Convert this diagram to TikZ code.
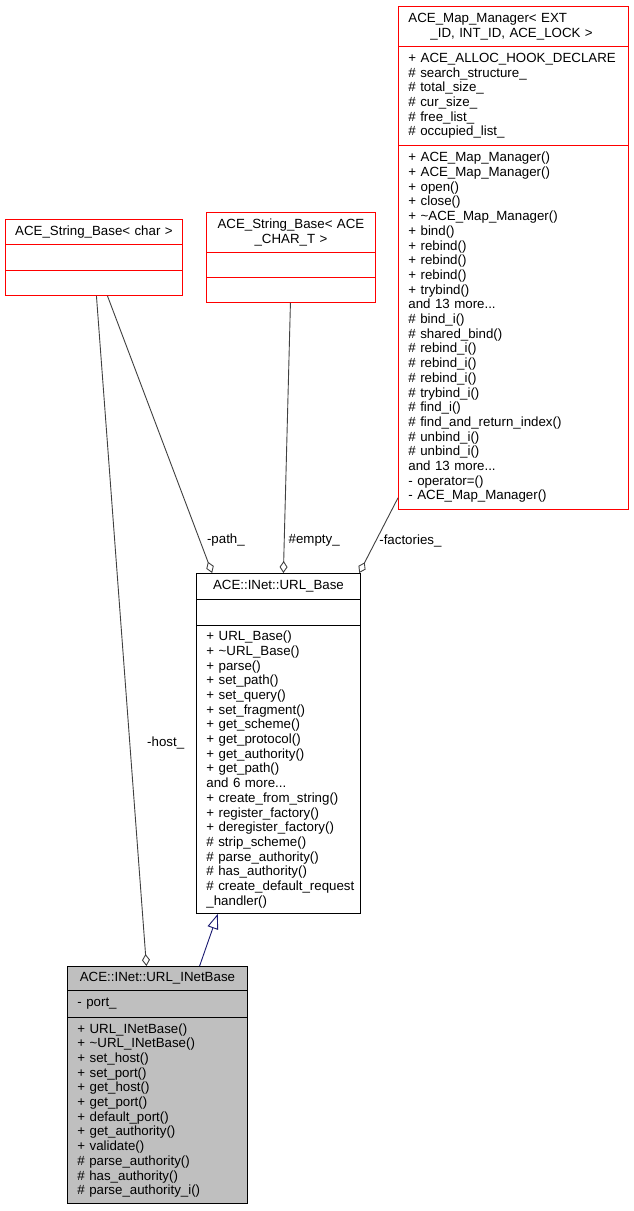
\documentclass[tikz,border=0pt]{standalone}
\usepackage{fontspec}
\setmainfont{Liberation Sans}
\usetikzlibrary{arrows.meta,calc}

\definecolor{edgegray}{HTML}{404040}
\definecolor{inhblue}{HTML}{191970}
\definecolor{boxgray}{HTML}{BFBFBF}

\tikzset{
  part/.style={draw, rectangle, anchor=north west, inner xsep=10pt, inner ysep=0pt,
    font=\fontsize{13.3}{14.7}\selectfont, line width=0.9pt,
    execute at begin node={\hyphenpenalty=10000 \exhyphenpenalty=10000 }},
  title/.style={part, align=center, inner xsep=3pt},
  members/.style={part, align=left},
  agg/.style={draw=edgegray, line width=0.9pt, -{Diamond[open,length=12pt,width=8pt]}},
  inh/.style={draw=inhblue, line width=0.9pt, -{Triangle[open,length=15pt,width=11pt]}},
  lbl/.style={font=\fontsize{13.3}{14.7}\selectfont, inner sep=1pt, right}
}

\begin{document}
\begin{tikzpicture}[x=1pt,y=-1pt]
\useasboundingbox (0,0) rectangle (633,1211);

% ACE_String_Base< char >
\node[title, draw=red, minimum width=177pt, text width=171pt, minimum height=25pt] (strCharT) at (5,219) {ACE\_String\_Base< char >};
\node[members, draw=red, minimum width=177pt, text width=157pt, minimum height=26pt] (strCharA) at (5,244) {};
\node[members, draw=red, minimum width=177pt, text width=157pt, minimum height=25pt] (strCharM) at (5,270) {};

% ACE_String_Base< ACE_CHAR_T >
\node[title, draw=red, minimum width=169pt, text width=163pt, minimum height=40pt] (strTT) at (206,212) {ACE\_String\_Base< ACE\\\_CHAR\_T >};
\node[members, draw=red, minimum width=169pt, text width=149pt, minimum height=25pt] (strTA) at (206,252) {};
\node[members, draw=red, minimum width=169pt, text width=149pt, minimum height=25pt] (strTM) at (206,277) {};

% ACE_Map_Manager
\node[members, draw=red, minimum width=230pt, text width=210pt, minimum height=40pt] (mapT) at (398,6)
  {ACE\_Map\_Manager< EXT\\\hspace*{22pt}\_ID, INT\_ID, ACE\_LOCK >};
\node[members, draw=red, minimum width=230pt, text width=210pt, minimum height=99pt] (mapA) at (398,46)
  {+ ACE\_ALLOC\_HOOK\_DECLARE\\\# search\_structure\_\\\# total\_size\_\\\# cur\_size\_\\\# free\_list\_\\\# occupied\_list\_};
\node[members, draw=red, minimum width=230pt, text width=210pt, minimum height=364pt] (mapM) at (398,145)
  {+ ACE\_Map\_Manager()\\+ ACE\_Map\_Manager()\\+ open()\\+ close()\\+ \textasciitilde ACE\_Map\_Manager()\\
   + bind()\\+ rebind()\\+ rebind()\\+ rebind()\\+ trybind()\\and 13 more...\\
   \# bind\_i()\\\# shared\_bind()\\\# rebind\_i()\\\# rebind\_i()\\\# rebind\_i()\\\# trybind\_i()\\
   \# find\_i()\\\# find\_and\_return\_index()\\\# unbind\_i()\\\# unbind\_i()\\and 13 more...\\
   - operator=()\\- ACE\_Map\_Manager()};

% ACE::INet::URL_Base
\node[title, minimum width=164pt, text width=158pt, minimum height=26pt] (urlT) at (196,573) {ACE::INet::URL\_Base};
\node[members, minimum width=164pt, text width=144pt, minimum height=26pt] (urlA) at (196,599) {};
\node[members, minimum width=164pt, text width=144pt, minimum height=288pt] (urlM) at (196,625)
  {+ URL\_Base()\\+ \textasciitilde URL\_Base()\\+ parse()\\+ set\_path()\\+ set\_query()\\+ set\_fragment()\\
   + get\_scheme()\\+ get\_protocol()\\+ get\_authority()\\+ get\_path()\\and 6 more...\\
   + create\_from\_string()\\+ register\_factory()\\+ deregister\_factory()\\\# strip\_scheme()\\
   \# parse\_authority()\\\# has\_authority()\\\#~create\_default\_request\\\_handler()};

% ACE::INet::URL_INetBase
\node[title, fill=boxgray, minimum width=180pt, text width=174pt, minimum height=24pt] (inetT) at (67,966) {ACE::INet::URL\_INetBase};
\node[members, fill=boxgray, minimum width=180pt, text width=160pt, minimum height=27pt] (inetA) at (67,990) {- port\_};
\node[members, fill=boxgray, minimum width=180pt, text width=160pt, minimum height=186pt] (inetM) at (67,1017)
  {+ URL\_INetBase()\\+ \textasciitilde URL\_INetBase()\\+ set\_host()\\+ set\_port()\\+ get\_host()\\+ get\_port()\\
   + default\_port()\\+ get\_authority()\\+ validate()\\\# parse\_authority()\\\# has\_authority()\\\# parse\_authority\_i()};

\draw[inh] ($(inetT.north west)!0.733!(inetT.north east)$) -- ($(urlM.south west)!0.132!(urlM.south east)$);

\draw[agg] ($(strCharM.south west)!0.514!(strCharM.south east)$) -- node[lbl, pos=0.667, xshift=16pt] {-host\_} ($(inetT.north west)!0.439!(inetT.north east)$);
\draw[agg] ($(strCharM.south west)!0.576!(strCharM.south east)$) -- node[lbl, pos=0.88, xshift=6pt] {-path\_} ($(urlT.north west)!0.098!(urlT.north east)$);
\draw[agg] ($(strTM.south west)!0.497!(strTM.south east)$) -- node[lbl, pos=0.878, xshift=3pt] {\#empty\_} ($(urlT.north west)!0.53!(urlT.north east)$);
\draw[agg] ($(mapM.south west)!0.033!(mapM.north west)$) -- node[lbl, pos=0.57, xshift=2pt] {-factories\_} ($(urlT.north west)!0.99!(urlT.north east)$);
\end{tikzpicture}
\end{document}
